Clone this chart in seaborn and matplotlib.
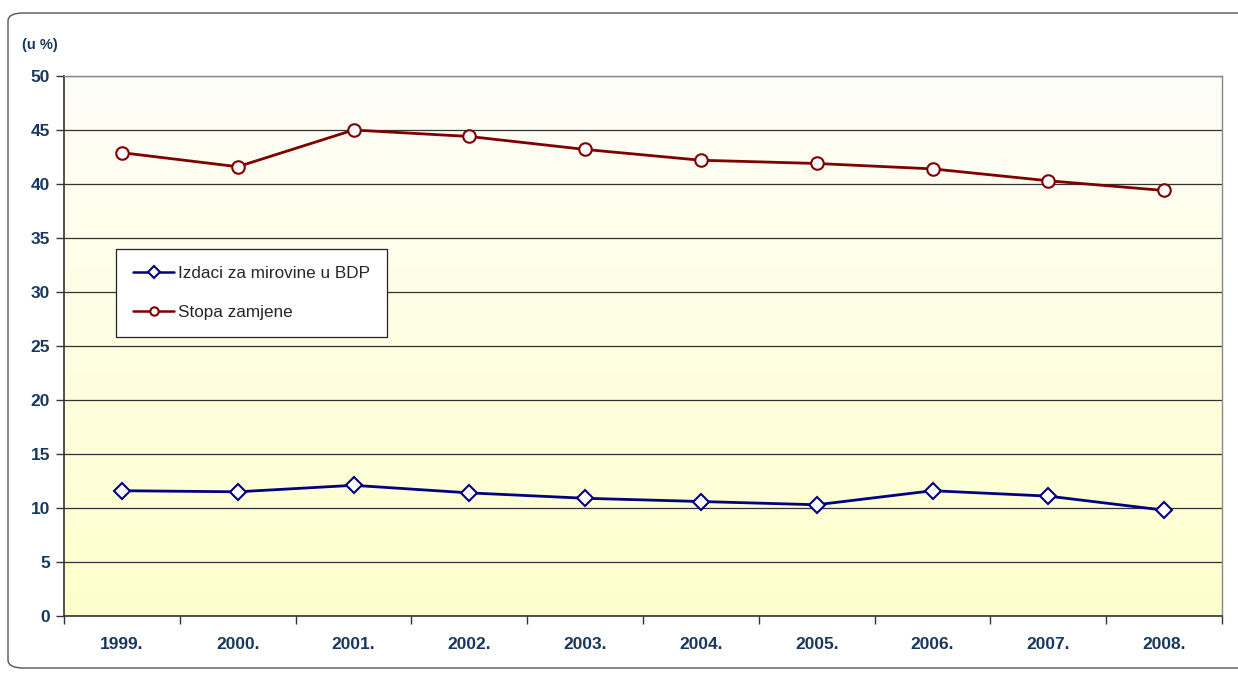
import numpy as np
import pandas as pd
import seaborn as sns
import matplotlib.pyplot as plt
from matplotlib.patches import FancyBboxPatch
from matplotlib.ticker import FixedLocator

years = ["1999.", "2000.", "2001.", "2002.", "2003.", "2004.", "2005.", "2006.", "2007.", "2008."]
izdaci = [11.6, 11.5, 12.1, 11.4, 10.9, 10.6, 10.3, 11.6, 11.1, 9.8]
stopa = [42.9, 41.6, 45.0, 44.4, 43.2, 42.2, 41.9, 41.4, 40.3, 39.4]

lbl_izdaci = "Izdaci za mirovine u BDP"
lbl_stopa = "Stopa zamjene"

df = pd.DataFrame({"godina": years, "izdaci": izdaci, "stopa": stopa})
df["x"] = range(len(years))

sns.set_style("white")
plt.rcParams['font.family'] = ['Liberation Sans', 'DejaVu Sans']

txt_col = "#17375E"
blue = "#000080"
red = "#7F0000"

fig = plt.figure(figsize=(12.38, 6.73), dpi=100)
fig.patch.set_facecolor("white")

# rounded frame around the whole chart
frame = FancyBboxPatch((8 / 1238, 5 / 673), 1.05, 655 / 673,
                       boxstyle="round,pad=0,rounding_size=0.012",
                       transform=fig.transFigure, facecolor="none",
                       edgecolor="#555555", linewidth=1.0)
fig.patches.append(frame)

ax = fig.add_axes([64 / 1238, 1 - 616 / 673, 1158 / 1238, 540 / 673])

# gradient background: almost white at top, light yellow at bottom
grad = np.linspace(0, 1, 256).reshape(-1, 1)
top = np.array([0.995, 0.995, 0.975])
bot = np.array([1.0, 1.0, 0.80])
img = top + (bot - top) * grad[..., None]
ax.imshow(img, extent=[-0.5, 9.5, 0, 50], origin="upper", aspect="auto", zorder=0)

sns.lineplot(data=df, x="x", y="izdaci", ax=ax, color=blue, linewidth=2,
             marker="D", markersize=8, markerfacecolor="white",
             markeredgecolor=blue, markeredgewidth=1.5, label=lbl_izdaci, zorder=3)
sns.lineplot(data=df, x="x", y="stopa", ax=ax, color=red, linewidth=2,
             marker="o", markersize=9, markerfacecolor="white",
             markeredgecolor=red, markeredgewidth=1.5, label=lbl_stopa, zorder=3)

ax.set_xlim(-0.5, 9.5)
ax.set_ylim(0, 50)
ax.set_yticks(range(0, 51, 5))
ax.yaxis.grid(True, color="#333333", linewidth=0.9)
ax.set_axisbelow(True)
for gl in ax.get_ygridlines():
    gl.set_zorder(1)

# category ticks between years, labels centred
ax.xaxis.set_major_locator(FixedLocator(np.arange(-0.5, 10, 1)))
ax.set_xticklabels([])
ax.xaxis.set_minor_locator(FixedLocator(df["x"]))
ax.set_xticklabels(years, minor=True)
ax.tick_params(axis="x", which="major", length=6, width=1, color="#333333", direction="out", bottom=True)
ax.tick_params(axis="x", which="minor", length=0, pad=15, labelsize=12.5, labelcolor=txt_col)
ax.tick_params(axis="y", length=6, width=1, color="#333333", direction="out", left=True,
               labelsize=12.5, labelcolor=txt_col, pad=4)
for t in ax.get_xticklabels(minor=True) + ax.get_yticklabels():
    t.set_fontweight("bold")

ax.set_xlabel("")
ax.set_ylabel("")

for s in ["left", "bottom"]:
    ax.spines[s].set_color("#333333")
    ax.spines[s].set_linewidth(1.2)
for s in ["top", "right"]:
    ax.spines[s].set_color("#888888")
    ax.spines[s].set_linewidth(1.0)

fig.text(22 / 1238, 1 - 45 / 673, "(u %)", fontsize=10.5, fontweight="bold",
         color=txt_col, va="center", ha="left")

leg = ax.legend(loc="upper left", bbox_to_anchor=(52 / 1158, 367 / 540),
                frameon=True, fancybox=False, fontsize=12.3, handlelength=2.4,
                handletextpad=0.25, labelspacing=1.4, borderpad=1.0,
                borderaxespad=0)
leg.get_frame().set_edgecolor("#222222")
leg.get_frame().set_linewidth(0.9)
leg.get_frame().set_facecolor("white")
leg.get_frame().set_alpha(1)
for h in leg.get_lines():
    h.set_markersize(6)
    h.set_linewidth(1.8)

fig.savefig("out.png", dpi=100)
